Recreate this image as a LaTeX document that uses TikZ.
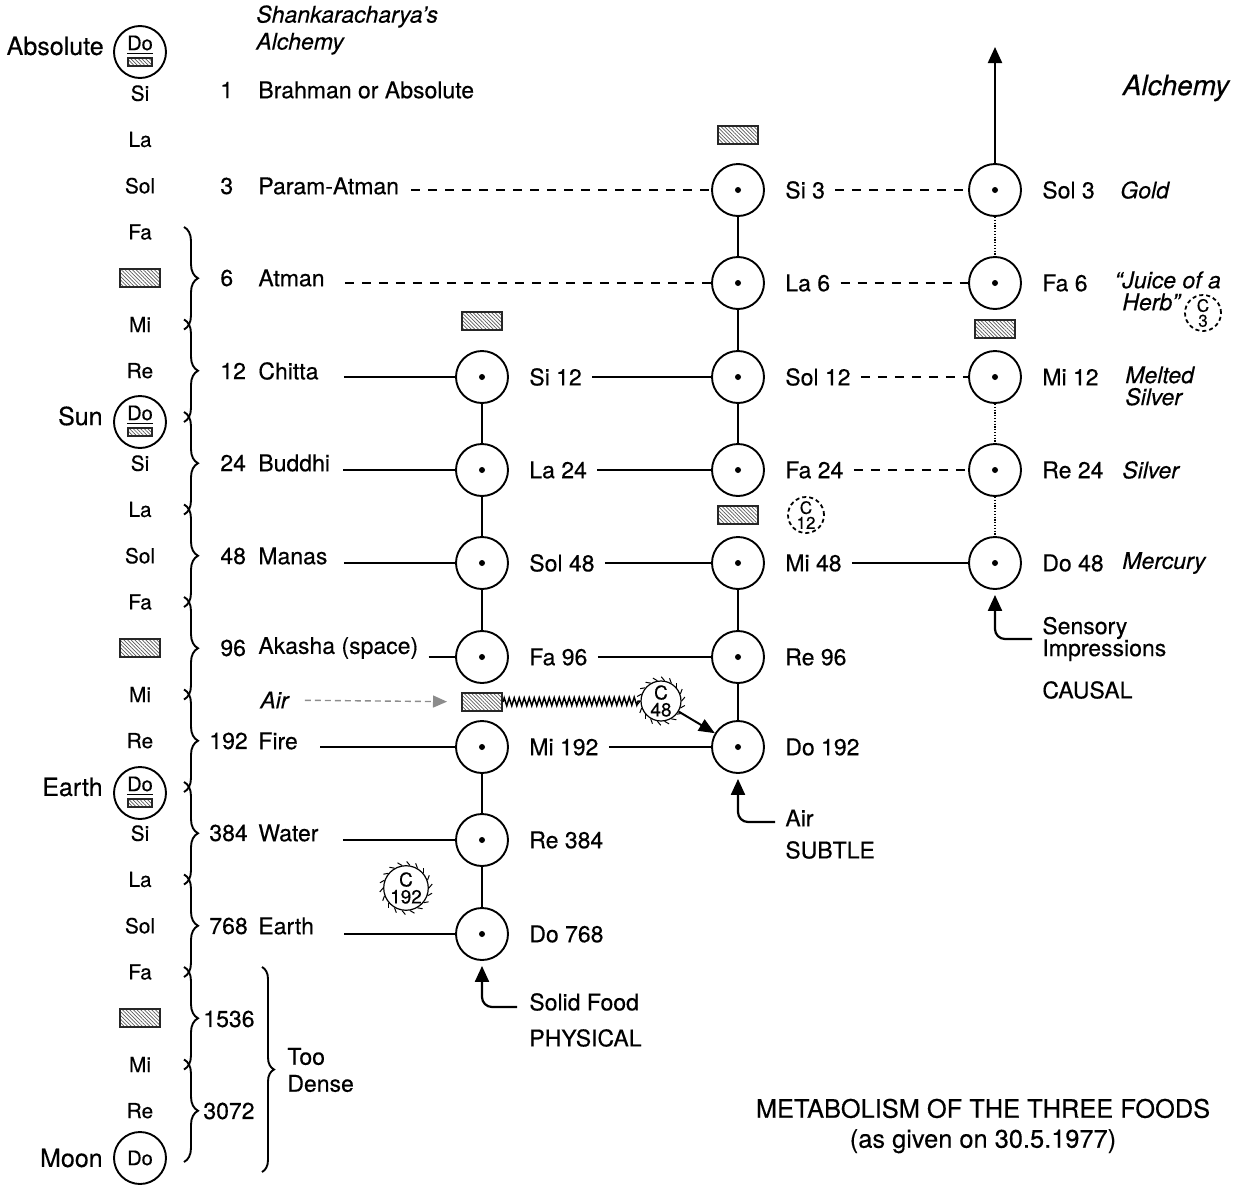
\documentclass[tikz,border=0pt]{standalone}
\usepackage{fontspec}
\setmainfont{TeX Gyre Heros}[FakeBold=0.35]
\usetikzlibrary{positioning,calc,arrows.meta,decorations.pathreplacing,decorations.pathmorphing,patterns.meta}

\tikzset{
  octave/.style={circle, draw, line width=0.95pt, minimum size=26pt, inner sep=0pt,
    path picture={\fill (path picture bounding box.center) circle (1.5pt);}},
  world/.style={circle, draw, line width=0.95pt, minimum size=26pt, inner sep=0pt},
  note/.style={font=\fontsize{10.4}{12}\selectfont, inner sep=0pt},
  lbl/.style={font=\fontsize{11.5}{13.5}\selectfont, inner sep=0pt},
  tag/.style={font=\fontsize{11.5}{11}\selectfont\itshape, inner sep=0pt, align=left},
  shock/.style={draw=black!85, line width=1pt, minimum width=20pt, minimum height=9pt, inner sep=0pt,
    pattern={Lines[angle=-45, distance=1.3pt, line width=0.35pt]}, pattern color=black!65},
  pip/.style={shock, line width=0.8pt, minimum width=12pt, minimum height=4pt},
  bracket/.style={decorate, decoration={brace, amplitude=7pt}, line width=0.95pt},
  link/.style={line width=0.75pt},
  guide/.style={line width=0.75pt, dash pattern=on 4.5pt off 4pt},
  faint/.style={line width=0.6pt, dash pattern=on 0.6pt off 0.8pt},
  feed/.style={line width=1.1pt, rounded corners=5pt, -{Triangle[length=8pt,width=7pt]}},
  airflow/.style={black!45, line width=0.7pt, dash pattern=on 3pt off 2pt, -{Triangle[length=7pt,width=6pt]}},
  spring/.style={decorate, decoration={zigzag, segment length=2.5pt, amplitude=2pt}, line width=0.75pt},
  cring/.style={circle, draw, line width=0.6pt, minimum size=20pt, inner sep=0pt, align=center,
    font=\fontsize{9.5}{8.5}\selectfont},
  cdash/.style={circle, draw, line width=0.9pt, dash pattern=on 2pt off 1.5pt, minimum size=18pt,
    inner sep=0pt, align=center, font=\fontsize{8.5}{7.5}\selectfont},
}

\begin{document}
\begin{tikzpicture}[x=0.5pt, y=-0.5pt]
  \useasboundingbox (0,0) rectangle (1239,1189);

  % the long scale on the left
  \foreach \nm/\i in {Si/1,La/2,Sol/3,Fa/4,Mi/6,Re/7,Si/9,La/10,Sol/11,Fa/12,Mi/14,Re/15,Si/17,La/18,Sol/19,Fa/20,Mi/22,Re/23}
    \node[note] (note\i) at (140,{47+46.25*\i}) {\nm};
  \foreach \i in {5,13,21}
    \node[shock] (note\i) at (140,{47+46.25*\i}) {};

  \node[world] (absolute) at (140,52) {};
  \node[note, font=\fontsize{10}{12}\selectfont, yshift=3.5pt] (absDo) at (absolute) {\underline{Do}};
  \node[pip] (absPip) at ([yshift=-5pt]absolute.center) {};
  \node[lbl, font=\fontsize{12.5}{14}\selectfont, left=4.5pt of absolute, yshift=3pt] (tAbsolute) {Absolute};

  \node[world] (sun) at (140,422) {};
  \node[note, font=\fontsize{10}{12}\selectfont, yshift=3.5pt] (sunDo) at (sun) {\underline{Do}};
  \node[pip] (sunPip) at ([yshift=-5pt]sun.center) {};
  \node[lbl, font=\fontsize{12.5}{14}\selectfont, left=5pt of sun, yshift=3pt] (tSun) {Sun};

  \node[world] (earthDo) at (140,793) {};
  \node[note, font=\fontsize{10}{12}\selectfont, yshift=3.5pt] (earthNote) at (earthDo) {\underline{Do}};
  \node[pip] (earthPip) at ([yshift=-5pt]earthDo.center) {};
  \node[lbl, font=\fontsize{12.5}{14}\selectfont, left=5pt of earthDo, yshift=3pt] (tEarth) {Earth};

  \node[world, font=\fontsize{10}{12}\selectfont] (moon) at (140,1158) {Do};
  \node[lbl, font=\fontsize{12.5}{14}\selectfont, left=5pt of moon] (tMoon) {Moon};

  % braces, two notes each
  \foreach \a in {4,6,...,22}
    \draw[bracket] (184,{47+46.25*\a-5}) -- (184,{47+46.25*(\a+2)+5});
  \draw[bracket, decoration={brace, amplitude=6pt}] (262,967) -- (262,1172);
  \node[lbl, anchor=west, align=left] (dense) at (287,1070) {Too\\Dense};

  % Shankaracharya's list
  \node[tag, font=\fontsize{11.5}{13.5}\selectfont\itshape, anchor=west] (shank) at (256,30) {Shankaracharya’s\\Alchemy};
  \node[lbl, anchor=west] (num1) at (220,90) {1};
  \node[lbl, anchor=west] (brahman) at (258,90) {Brahman or Absolute};
  \node[lbl, anchor=west] (num3) at (220,186) {3};
  \node[lbl, anchor=west] (paramatman) at (258,186) {Param-Atman};
  \node[lbl, anchor=west] (num6) at (220,278) {6};
  \node[lbl, anchor=west] (atman) at (258,278) {Atman};
  \node[lbl, anchor=west] (num12) at (220,371) {12};
  \node[lbl, anchor=west] (chitta) at (258,371) {Chitta};
  \node[lbl, anchor=west] (num24) at (220,463) {24};
  \node[lbl, anchor=west] (buddhi) at (258,463) {Buddhi};
  \node[lbl, anchor=west] (num48) at (220,556) {48};
  \node[lbl, anchor=west] (manas) at (258,556) {Manas};
  \node[lbl, anchor=west] (num96) at (220,648) {96};
  \node[lbl, anchor=west] (akasha) at (258,648) {Akasha (space)};
  \node[tag, anchor=west] (air) at (260,700) {Air};
  \node[lbl, anchor=west] (num192) at (209,741) {192};
  \node[lbl, anchor=west] (fire) at (258,741) {Fire};
  \node[lbl, anchor=west] (num384) at (209,833) {384};
  \node[lbl, anchor=west] (water) at (258,833) {Water};
  \node[lbl, anchor=west] (num768) at (209,926) {768};
  \node[lbl, anchor=west] (earth) at (258,926) {Earth};
  \node[lbl, anchor=west] (num1536) at (203,1019) {1536};
  \node[lbl, anchor=west] (num3072) at (203,1111) {3072};

  % physical octave
  \node[octave] (p1) at (482,377) {};
  \node[octave] (p2) at (482,470) {};
  \node[octave] (p3) at (482,563) {};
  \node[octave] (p4) at (482,657) {};
  \node[octave] (p5) at (482,747) {};
  \node[octave] (p6) at (482,840) {};
  \node[octave] (p7) at (482,934) {};
  \node[lbl, right=10pt of p1] (lp1) {Si 12};
  \node[lbl, right=10pt of p2] (lp2) {La 24};
  \node[lbl, right=10pt of p3] (lp3) {Sol 48};
  \node[lbl, right=10pt of p4] (lp4) {Fa 96};
  \node[lbl, right=10pt of p5] (lp5) {Mi 192};
  \node[lbl, right=10pt of p6] (lp6) {Re 384};
  \node[lbl, right=10pt of p7] (lp7) {Do 768};
  \node[shock] (pShock) at (482,321) {};
  \node[shock] (airShock) at (482,702) {};

  % subtle octave
  \node[octave] (s1) at (738,190) {};
  \node[octave] (s2) at (738,283) {};
  \node[octave] (s3) at (738,377) {};
  \node[octave] (s4) at (738,470) {};
  \node[octave] (s5) at (738,563) {};
  \node[octave] (s6) at (738,657) {};
  \node[octave] (s7) at (738,747) {};
  \node[lbl, right=10pt of s1] (ls1) {Si 3};
  \node[lbl, right=10pt of s2] (ls2) {La 6};
  \node[lbl, right=10pt of s3] (ls3) {Sol 12};
  \node[lbl, right=10pt of s4] (ls4) {Fa 24};
  \node[lbl, right=10pt of s5] (ls5) {Mi 48};
  \node[lbl, right=10pt of s6] (ls6) {Re 96};
  \node[lbl, right=10pt of s7] (ls7) {Do 192};
  \node[shock] (sShock1) at (738,135) {};
  \node[shock] (sShock2) at (738,515) {};

  % causal octave
  \node[octave] (k1) at (995,190) {};
  \node[octave] (k2) at (995,283) {};
  \node[octave] (k3) at (995,377) {};
  \node[octave] (k4) at (995,470) {};
  \node[octave] (k5) at (995,563) {};
  \node[lbl, right=10pt of k1] (lk1) {Sol 3};
  \node[lbl, right=10pt of k2] (lk2) {Fa 6};
  \node[lbl, right=10pt of k3] (lk3) {Mi 12};
  \node[lbl, right=10pt of k4] (lk4) {Re 24};
  \node[lbl, right=10pt of k5] (lk5) {Do 48};
  \node[shock] (kShock) at (995,329) {};
  \coordinate (apex) at (995,47);

  \node[font=\fontsize{14}{16}\selectfont\itshape, inner sep=0pt] (alchemy) at (1176,88) {Alchemy};
  \node[tag, anchor=west] (gold) at (1120,190) {Gold};
  \node[tag, anchor=west] (juice) at (1122,291) {\llap{“}Juice of a\\Herb”};
  \node[tag, anchor=west] (melted) at (1125,386) {Melted\\Silver};
  \node[tag, anchor=west] (silver) at (1122,470) {Silver};
  \node[tag, anchor=west] (mercury) at (1122,563) {Mercury};

  % carbons
  \node[cring] (carbon48) at (661,701) {C\\48};
  \node[cring] (carbon192) at (406,888) {C\\192};
  \foreach \t in {0,20,...,340} {
    \draw[line width=0.5pt] (carbon48.\t) -- ++(\t+50:2.6pt);
    \draw[line width=0.5pt] (carbon192.\t) -- ++(\t+50:2.6pt);
  }
  \node[cdash] (carbon12) at (806,515) {C\\12};
  \node[cdash] (carbon3) at (1203,313) {C\\3};

  % the three foods coming in
  \node[lbl, anchor=west] (solid) at (529,1002) {Solid Food};
  \node[lbl, anchor=west] (physical) at (529,1038) {PHYSICAL};
  \node[lbl, anchor=west] (airIn) at (785,818) {Air};
  \node[lbl, anchor=west] (subtle) at (785,850) {SUBTLE};
  \node[lbl, anchor=west, align=left, font=\fontsize{11.5}{11}\selectfont] (sensory) at (1042,639) {Sensory\\Impressions};
  \node[lbl, anchor=west] (causal) at (1042,690) {CAUSAL};

  \node[lbl, font=\fontsize{12.7}{15}\selectfont, align=center] (title) at (983,1126) {METABOLISM OF THE THREE FOODS\\(as given on 30.5.1977)};

  % connections
  \foreach \a/\b in {p1/p2,p2/p3,p3/p4,p5/p6,p6/p7,s1/s2,s2/s3,s3/s4,s5/s6,s6/s7}
    \draw[link] (\a) -- (\b);
  \foreach \a/\b in {k1/k2,k3/k4,k4/k5}
    \draw[faint] (\a) -- (\b);
  \draw[feed] (k1) -- (apex);

  \draw[guide, shorten <=6pt] (paramatman.east |- s1) -- (s1);
  \draw[guide, shorten <=10pt] (atman.east |- s2) -- (s2);
  \draw[link, shorten <=12.5pt] (chitta.east |- p1) -- (p1);
  \draw[link, shorten <=6.5pt] (buddhi.east |- p2) -- (p2);
  \draw[link, shorten <=8pt] (manas.east |- p3) -- (p3);
  \draw[link, shorten <=5pt] (akasha.east |- p4) -- (p4);
  \draw[link, shorten <=11pt] (fire.east |- p5) -- (p5);
  \draw[link, shorten <=12pt] (water.east |- p6) -- (p6);
  \draw[link, shorten <=15pt] (earth.east |- p7) -- (p7);

  \foreach \a/\b in {lp1/s3,lp2/s4,lp3/s5,lp4/s6,lp5/s7,ls5/k5}
    \draw[link, shorten <=5pt] (\a) -- (\b);
  \foreach \a/\b in {ls1/k1,ls2/k2,ls3/k3,ls4/k4}
    \draw[guide, shorten <=5pt] (\a) -- (\b);

  \draw[airflow, shorten <=8pt, shorten >=7pt] (air) -- (airShock);
  \draw[spring] (airShock) -- (carbon48);
  \draw[line width=1pt, -{Triangle[length=8pt,width=6.5pt]}] (carbon48) -- (s7);

  \draw[feed, shorten >=2.5pt] ([shift={(-6pt,-2.5pt)}]solid.west) -| (p7);
  \draw[feed, shorten >=2.5pt] ([shift={(-5pt,-2pt)}]airIn.west) -| (s7);
  \draw[feed, shorten >=2.5pt] ([shift={(-5pt,0pt)}]sensory.west) -| (k5);
\end{tikzpicture}
\end{document}
